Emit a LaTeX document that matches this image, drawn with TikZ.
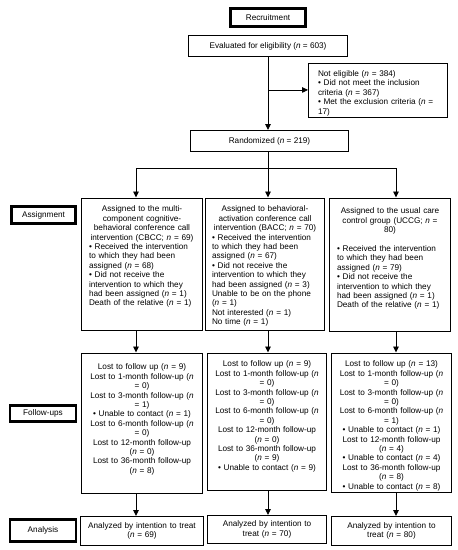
\documentclass[tikz,border=0pt]{standalone}
\usepackage{fontspec}
\setmainfont{Liberation Sans}
\usepackage{tikz}
\usetikzlibrary{arrows.meta}
\newcommand{\nn}{\textit{n}}
\tikzset{
  flowbox/.style={draw, rectangle, line width=0.9pt, font=\fontsize{8.2pt}{9.4pt}\selectfont, inner xsep=3pt, inner ysep=0pt},
  stagebox/.style={draw, rectangle, line width=2.8pt, font=\fontsize{8.2pt}{9.4pt}\selectfont, inner sep=0pt},
  flowarrow/.style={line width=0.9pt, -{Triangle[width=5.5pt,length=6pt]}},
}

\begin{document}
\begin{tikzpicture}[x=1pt, y=-1pt]%
\useasboundingbox (0,0) rectangle (458,550);%
\coordinate (c1) at (136, 0);%
\coordinate (c2) at (268, 0);%
\coordinate (c3) at (396, 0);%
\node[stagebox, minimum width=75pt, minimum height=18pt] (recruit) at (268, 17.5) {Recruitment};%
\node[flowbox, minimum width=159pt, minimum height=21pt] (eval) at (268, 46) {Evaluated for eligibility (\nn{} = 603)};%
\node[flowbox, anchor=north, minimum width=139pt, text width=120pt, align=left, text height=13.5pt, text depth=40.5pt] (noelig) at (378, 62.5) {Not eligible (\nn{} = 384)\\• Did not meet the inclusion\\criteria (\nn{} = 367)\\• Met the exclusion criteria (\nn{} =\\17)};%
\node[flowbox, minimum width=158pt, minimum height=21pt] (rand) at (269.5, 141) {Randomized (\nn{} = 219)};%
\node[stagebox, minimum width=64pt, minimum height=17pt] (assign) at (43.5, 215) {Assignment};%
\node[flowbox, anchor=north, minimum width=121pt, text width=106pt, text height=14pt, text depth=118pt] (cbcc) at (142, 197.5) {{\centering Assigned to the multi-\\component cognitive-\\behavioral conference call\\intervention (CBCC; \nn{} = 69)\par}\raggedright • Received the intervention\\to which they had been\\assigned (\nn{} = 68)\\• Did not receive the\\intervention to which they\\had been assigned (\nn{} = 1)\\Death of the relative (\nn{} = 1)};%
\node[flowbox, anchor=north, minimum width=119pt, text width=106pt, text height=14pt, text depth=118pt] (bacc) at (265, 197.5) {{\centering Assigned to behavioral-\\activation conference call\\intervention (BACC; \nn{} = 70)\par}\raggedright • Received the intervention\\to which they had been\\assigned (\nn{} = 67)\\• Did not receive the\\intervention to which they\\had been assigned (\nn{} = 3)\\Unable to be on the phone\\(\nn{} = 1)\\Not interested (\nn{} = 1)\\No time (\nn{} = 1)};%
\node[flowbox, anchor=north, minimum width=121pt, text width=106pt, text height=16pt, text depth=117pt] (uccg) at (390, 197.5) {{\centering Assigned to the usual care\\control group (UCCG; \nn{} =\\80)\par}\vspace{9.4pt}\raggedright • Received the intervention\\to which they had been\\assigned (\nn{} = 79)\\• Did not receive the\\intervention to which they\\had been assigned (\nn{} = 1)\\Death of the relative (\nn{} = 1)};%
\node[stagebox, minimum width=66pt, minimum height=16pt] (follow) at (43, 413.5) {Follow-ups};%
\node[flowbox, anchor=north, minimum width=121pt, text width=106pt, align=center, text height=17pt, text depth=123pt] (fcbcc) at (142, 352.5) {Lost to follow up (\nn{} = 9)\\Lost to 1-month follow-up (\nn{}\\= 0)\\Lost to 3-month follow-up (\nn{}\\= 1)\\• Unable to contact (\nn{} = 1)\\Lost to 6-month follow-up (\nn{}\\= 0)\\Lost to 12-month follow-up\\(\nn{} = 0)\\Lost to 36-month follow-up\\(\nn{} = 8)};%
\node[flowbox, anchor=north, minimum width=119pt, text width=106pt, align=center, text height=14pt, text depth=123pt] (fbacc) at (267, 352.5) {Lost to follow up (\nn{} = 9)\\Lost to 1-month follow-up (\nn{}\\= 0)\\Lost to 3-month follow-up (\nn{}\\= 0)\\Lost to 6-month follow-up (\nn{}\\= 0)\\Lost to 12-month follow-up\\(\nn{} = 0)\\Lost to 36-month follow-up\\(\nn{} = 9)\\• Unable to contact (\nn{} = 9)};%
\node[flowbox, anchor=north, minimum width=120pt, text width=106pt, align=center, text height=14pt, text depth=125pt] (fuccg) at (391.5, 352.5) {Lost to follow up (\nn{} = 13)\\Lost to 1-month follow-up (\nn{}\\= 0)\\Lost to 3-month follow-up (\nn{}\\= 0)\\Lost to 6-month follow-up (\nn{}\\= 1)\\• Unable to contact (\nn{} = 1)\\Lost to 12-month follow-up\\(\nn{} = 4)\\• Unable to contact (\nn{} = 4)\\Lost to 36-month follow-up\\(\nn{} = 8)\\• Unable to contact (\nn{} = 8)};%
\node[stagebox, minimum width=66pt, minimum height=22pt] (analysis) at (43, 530.5) {Analysis};%
\node[flowbox, minimum width=123pt, minimum height=29pt, text width=114pt, align=center] (acbcc) at (142, 531) {Analyzed by intention to treat\\(\nn{} = 69)};%
\node[flowbox, minimum width=119pt, minimum height=28pt, text width=106pt, align=center] (abacc) at (267, 529.5) {Analyzed by intention to\\treat (\nn{} = 70)};%
\node[flowbox, minimum width=120pt, minimum height=29pt, text width=106pt, align=center] (auccg) at (391.5, 531) {Analyzed by intention to\\treat (\nn{} = 80)};%
\draw[flowarrow] (eval.south) -- (eval.south |- rand.north);%
\draw[flowarrow] (eval.south |- noelig.west) -- (noelig.west);%
\draw[line width=0.9pt] (rand.south -| c2) -- ++(0, 16) coordinate (split);%
\draw[flowarrow] (split) -- (bacc.north -| c2);%
\draw[flowarrow] (split) -| (cbcc.north -| c1);%
\draw[flowarrow] (split) -| (uccg.north -| c3);%
\draw[flowarrow] (cbcc.south -| c1) -- (fcbcc.north -| c1);%
\draw[flowarrow] (bacc.south -| c2) -- (fbacc.north -| c2);%
\draw[flowarrow] (uccg.south -| c3) -- (fuccg.north -| c3);%
\draw[flowarrow] (fcbcc.south -| c1) -- (acbcc.north -| c1);%
\draw[flowarrow] (fbacc.south -| c2) -- (abacc.north -| c2);%
\draw[flowarrow] (fuccg.south -| c3) -- (auccg.north -| c3);%
\end{tikzpicture}
\end{document}
